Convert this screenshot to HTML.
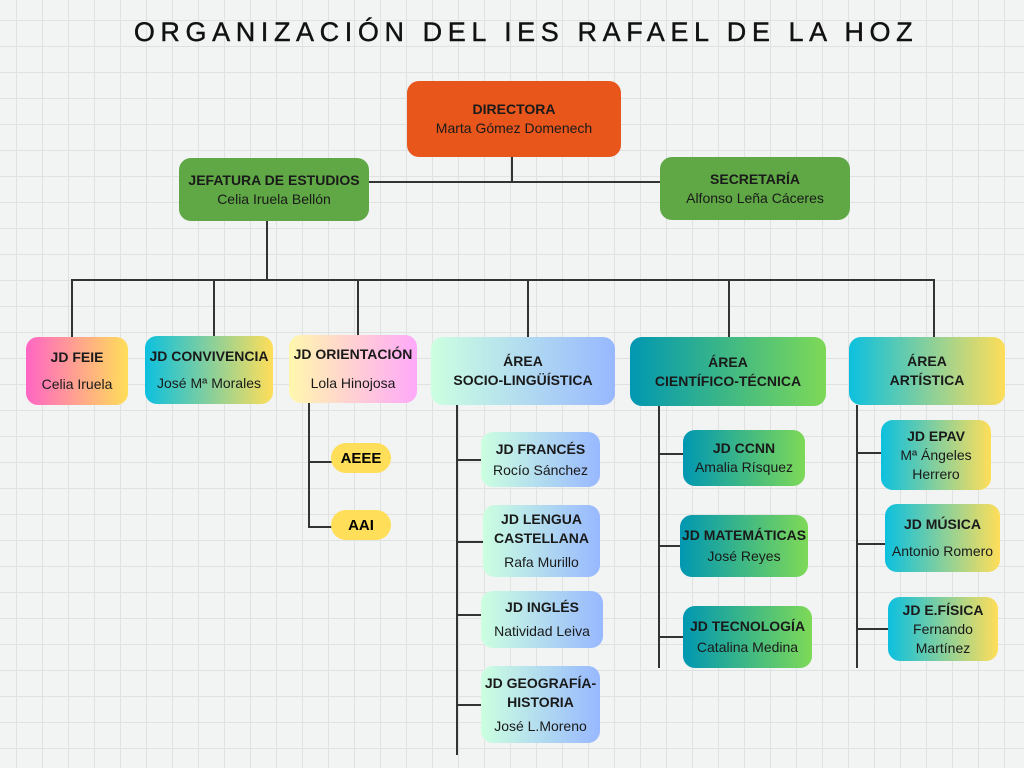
<!DOCTYPE html>
<html><head><meta charset="utf-8"><style>
body{margin:0;width:1024px;height:768px;overflow:hidden;position:relative;font-family:"Liberation Sans",sans-serif;
background-color:#f2f3f3;
background-image:linear-gradient(#e0e2e2 1px,transparent 1px),linear-gradient(90deg,#e0e2e2 1px,transparent 1px);
background-size:26px 26px;background-position:0 20px,16px 0;}
.t{position:absolute;left:0;width:1052px;top:17px;text-align:center;font-size:27px;letter-spacing:5.6px;color:#111;-webkit-text-stroke:0.4px #111}
.b{position:absolute;border-radius:12px;display:flex;flex-direction:column;justify-content:center;align-items:center;text-align:center;color:#1a1a1a;font-size:14px;line-height:19px;box-sizing:border-box}
.b b{font-size:14px}
.h{position:absolute;height:1.5px;background:#333}
.v{position:absolute;width:1.5px;background:#333}
.g1{background:linear-gradient(90deg,#ff66c4,#ffde59)}
.g2{background:linear-gradient(90deg,#0cc0df,#ffde59)}
.g3{background:linear-gradient(90deg,#fff7ad,#ffa9f9)}
.g4{background:linear-gradient(90deg,#ccffe0,#98b8ff)}
.g5{background:linear-gradient(90deg,#0097b2,#7ed957)}
.pill{position:absolute;background:#ffde59;border-radius:15px;font-weight:bold;font-size:15px;display:flex;align-items:center;justify-content:center}
</style></head><body>
<div class="t">ORGANIZACIÓN DEL IES RAFAEL DE LA HOZ</div>

<div class="v" style="left:511px;top:157px;height:24px"></div>
<div class="h" style="left:368px;top:181px;width:292px"></div>
<div class="v" style="left:266px;top:221px;height:58px"></div>
<div class="h" style="left:71px;top:279px;width:863px"></div>
<div class="v" style="left:71px;top:279px;height:58px"></div>
<div class="v" style="left:213px;top:279px;height:58px"></div>
<div class="v" style="left:357px;top:279px;height:57px"></div>
<div class="v" style="left:527px;top:279px;height:58px"></div>
<div class="v" style="left:728px;top:279px;height:58px"></div>
<div class="v" style="left:933px;top:279px;height:58px"></div>

<div class="v" style="left:308px;top:403px;height:124px"></div>
<div class="h" style="left:308px;top:461px;width:24px"></div>
<div class="h" style="left:308px;top:526px;width:24px"></div>

<div class="v" style="left:456px;top:405px;height:350px"></div>
<div class="h" style="left:456px;top:459px;width:25px"></div>
<div class="h" style="left:456px;top:541px;width:27px"></div>
<div class="h" style="left:456px;top:614px;width:25px"></div>
<div class="h" style="left:456px;top:704px;width:25px"></div>

<div class="v" style="left:658px;top:406px;height:262px"></div>
<div class="h" style="left:658px;top:453px;width:25px"></div>
<div class="h" style="left:658px;top:545px;width:22px"></div>
<div class="h" style="left:658px;top:636px;width:25px"></div>

<div class="v" style="left:856px;top:405px;height:263px"></div>
<div class="h" style="left:856px;top:452px;width:25px"></div>
<div class="h" style="left:856px;top:543px;width:29px"></div>
<div class="h" style="left:856px;top:628px;width:32px"></div>

<div class="b" style="left:407px;top:81px;width:214px;height:76px;background:#e8561c"><b>DIRECTORA</b>Marta Gómez Domenech</div>
<div class="b" style="left:179px;top:158px;width:190px;height:63px;background:#5fa845"><b>JEFATURA DE ESTUDIOS</b>Celia Iruela Bellón</div>
<div class="b" style="left:660px;top:157px;width:190px;height:63px;background:#5fa845"><b>SECRETARÍA</b>Alfonso Leña Cáceres</div>

<div class="b g1" style="left:26px;top:337px;width:102px;height:68px;gap:8px"><b>JD FEIE</b>Celia Iruela</div>
<div class="b g2" style="left:145px;top:336px;width:128px;height:68px;gap:8px"><b>JD CONVIVENCIA</b>José Mª Morales</div>
<div class="b g3" style="left:289px;top:335px;width:128px;height:68px;gap:10px"><b>JD ORIENTACIÓN</b>Lola Hinojosa</div>
<div class="pill" style="left:331px;top:443px;width:60px;height:30px">AEEE</div>
<div class="pill" style="left:331px;top:510px;width:60px;height:30px">AAI</div>

<div class="b g4" style="left:431px;top:337px;width:184px;height:68px"><b>ÁREA<br>SOCIO-LINGÜÍSTICA</b></div>
<div class="b g5" style="left:630px;top:337px;width:196px;height:69px"><b>ÁREA<br>CIENTÍFICO-TÉCNICA</b></div>
<div class="b g2" style="left:849px;top:337px;width:156px;height:68px"><b>ÁREA<br>ARTÍSTICA</b></div>

<div class="b g4" style="left:481px;top:432px;width:119px;height:55px;gap:2px"><b>JD FRANCÉS</b>Rocío Sánchez</div>
<div class="b g4" style="left:483px;top:505px;width:117px;height:72px;gap:5px"><b>JD LENGUA<br>CASTELLANA</b>Rafa Murillo</div>
<div class="b g4" style="left:481px;top:591px;width:122px;height:57px;gap:5px"><b>JD INGLÉS</b>Natividad Leiva</div>
<div class="b g4" style="left:481px;top:666px;width:119px;height:77px;gap:5px"><b>JD GEOGRAFÍA-<br>HISTORIA</b>José L.Moreno</div>

<div class="b g5" style="left:683px;top:430px;width:122px;height:56px"><b>JD CCNN</b>Amalia Rísquez</div>
<div class="b g5" style="left:680px;top:515px;width:128px;height:62px;gap:2px"><b>JD MATEMÁTICAS</b>José Reyes</div>
<div class="b g5" style="left:683px;top:606px;width:129px;height:62px;gap:2px"><b>JD TECNOLOGÍA</b>Catalina Medina</div>

<div class="b g2" style="left:881px;top:420px;width:110px;height:70px"><b>JD EPAV</b>Mª Ángeles<br>Herrero</div>
<div class="b g2" style="left:885px;top:504px;width:115px;height:68px;gap:8px"><b>JD MÚSICA</b>Antonio Romero</div>
<div class="b g2" style="left:888px;top:597px;width:110px;height:64px"><b>JD E.FÍSICA</b>Fernando<br>Martínez</div>
</body></html>
